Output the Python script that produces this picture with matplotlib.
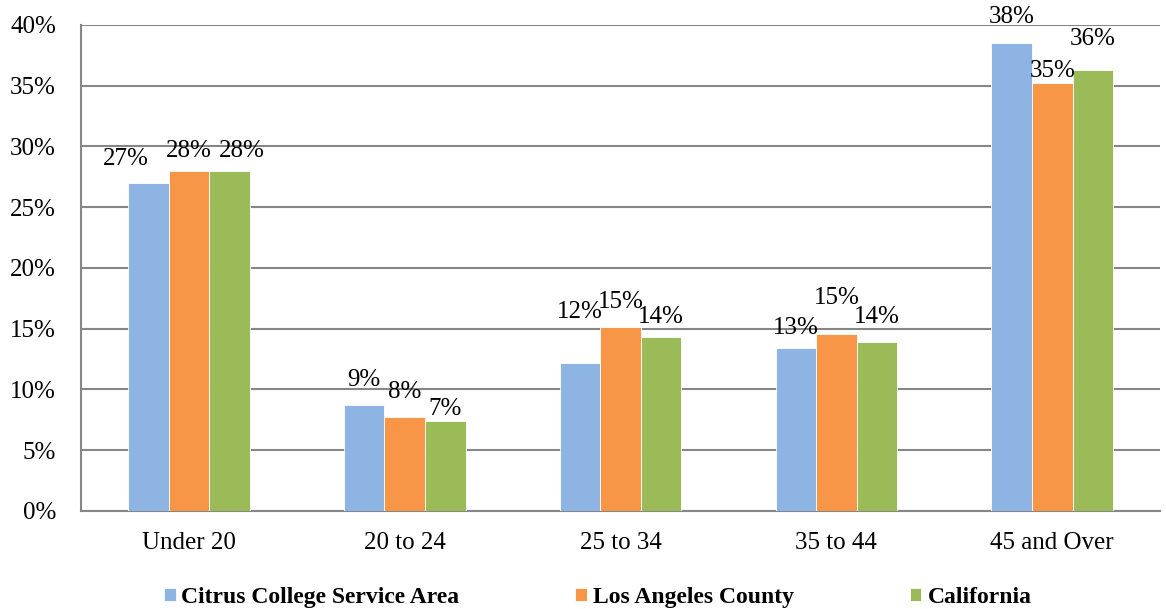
import matplotlib.pyplot as plt
import numpy as np

categories = ['Under 20', '20 to 24', '25 to 34', '35 to 44', '45 and Over']
series_names = ['Citrus College Service Area', 'Los Angeles County', 'California']
citrus = [27.0, 8.7, 12.2, 13.4, 38.5]
la_county = [28.0, 7.7, 15.1, 14.6, 35.2]
california = [28.0, 7.4, 14.3, 13.9, 36.3]
colors = ['#8EB4E3', '#F79646', '#9BBB59']

# label nudges in pixels (dx, gap above bar), the way excel placed them
label_dx = [[-23, 0, 0, 0, 0], [0, 0, 0, 0, 0], [12, 0, 0, 0, 0]]
label_gap = [[13, 14, 40, 9, 15], [9, 14, 14, 25, 1], [9, 1, 9, 14, 20]]

plt.rcParams['font.family'] = ['Liberation Serif', 'DejaVu Serif']

fig = plt.figure(figsize=(11.66, 6.09), dpi=100)
ax = fig.add_axes([0.0695, 0.161, 0.9255, 0.798])

x = np.arange(len(categories))
w = 0.188
for i, (vals, c) in enumerate(zip([citrus, la_county, california], colors)):
    bars = ax.bar(x + (i - 1) * w, vals, w, color=c, edgecolor='white', linewidth=0.6,
                  label=series_names[i], zorder=3)
    for j, (b, v) in enumerate(zip(bars, vals)):
        ax.annotate('%d%%' % round(v), (b.get_x() + b.get_width() / 2, v),
                    xytext=(label_dx[i][j], label_gap[i][j]), textcoords='offset pixels',
                    ha='center', va='bottom', fontsize=18, zorder=4)

ax.set_xlim(-0.5, len(categories) - 0.5)
ax.set_ylim(0, 40)
ax.set_yticks(np.arange(0, 41, 5))
ax.set_yticklabels(['%d%%' % t for t in range(0, 41, 5)], fontsize=18)
ax.set_xticks(x)
ax.set_xticklabels(categories, fontsize=18)
ax.tick_params(axis='y', length=0, pad=18)
ax.tick_params(axis='x', length=0, pad=15)
ax.grid(axis='y', color='#868686', linewidth=1.5, zorder=0)
for s in ['top', 'right']:
    ax.spines[s].set_visible(False)
for s in ['left', 'bottom']:
    ax.spines[s].set_color('#868686')
    ax.spines[s].set_linewidth(1.5)

leg = fig.legend(loc='center', bbox_to_anchor=(0.5125, 0.019), ncol=3, frameon=False,
                 prop={'weight': 'bold', 'size': 17}, handlelength=0.5, handleheight=0.5,
                 handletextpad=0.25, columnspacing=4.9)

plt.savefig('out.png', dpi=100)
